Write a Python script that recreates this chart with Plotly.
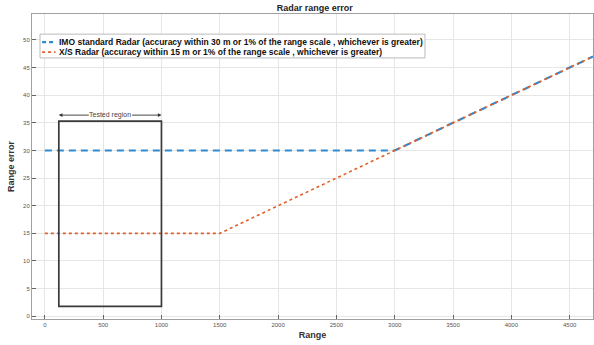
import plotly.graph_objects as go

# Range (m) breakpoints and error curves
range_m = [0, 1500, 3000, 4700]
imo_error = [30, 30, 30, 47]
xs_error = [15, 15, 30, 47]

imo_name = "IMO standard Radar (accuracy within 30 m or 1% of the range scale , whichever is greater)"
xs_name = "X/S Radar (accuracy within 15 m or 1% of the range scale , whichever is greater)"

# Tested region box
tested_x = [120, 1000]
tested_y = [1.8, 35.3]
tested_label = "Tested region"

x_ticks = [0, 500, 1000, 1500, 2000, 2500, 3000, 3500, 4000, 4500]
y_ticks = [0, 5, 10, 15, 20, 25, 30, 35, 40, 45, 50]

FONT = "Liberation Sans, Arial, sans-serif"
IMO_LINE = dict(color="#2f8ad0", width=2.2, dash="7px,5px")
XS_LINE = dict(color="#e0602a", width=1.6, dash="dot")

fig = go.Figure()
fig.add_trace(go.Scatter(x=range_m, y=imo_error, mode="lines", name=imo_name,
                         line=IMO_LINE, showlegend=False))
fig.add_trace(go.Scatter(x=range_m, y=xs_error, mode="lines", name=xs_name,
                         line=XS_LINE, showlegend=False))

# Tested region rectangle
fig.add_shape(type="rect", xref="x", yref="y",
              x0=tested_x[0], x1=tested_x[1], y0=tested_y[0], y1=tested_y[1],
              line=dict(color="#3a3a3a", width=1.7))

arrow_y = 36.4
fig.add_annotation(x=(tested_x[0] + tested_x[1]) / 2, y=arrow_y, text=tested_label,
                   showarrow=False, font=dict(family=FONT, size=7, color="#444444"))
for tip, tail in [(tested_x[0], 390), (tested_x[1], 735)]:
    fig.add_annotation(x=tip, y=arrow_y, ax=tail, ay=arrow_y, axref="x", ayref="y",
                       xref="x", yref="y", text="", showarrow=True,
                       arrowhead=2, arrowsize=0.8, arrowwidth=0.9, arrowcolor="#333333")

# Compact legend box (paper coordinates)
fig.add_shape(type="rect", xref="paper", yref="paper", x0=0.0143, x1=0.7005, y0=0.856, y1=0.934,
              line=dict(color="#bbbbbb", width=1), fillcolor="white", layer="above")
for row_y, style, label in [(0.908, IMO_LINE, imo_name), (0.875, XS_LINE, xs_name)]:
    fig.add_shape(type="line", xref="paper", yref="paper", x0=0.018, x1=0.042, y0=row_y, y1=row_y,
                  line=dict(color=style["color"], width=style["width"],
                            dash="4px,3px" if style["dash"] != "dot" else "dot"),
                  layer="above")
    fig.add_annotation(xref="paper", yref="paper", x=0.0446, y=row_y, xanchor="left", yanchor="middle",
                       text="<b>" + label + "</b>", showarrow=False,
                       font=dict(family=FONT, size=8.5, color="#111111"))

axis_common = dict(
    showgrid=True, gridcolor="#e6e6e6", gridwidth=1,
    ticks="inside", ticklen=4, tickcolor="#666666",
    tickfont=dict(family=FONT, size=6, color="#555555"),
    showline=True, linecolor="#a0a0a0", linewidth=1, mirror=True,
    zeroline=False,
)

fig.update_layout(
    width=594, height=345,
    margin=dict(l=32, r=1, t=14, b=26),
    paper_bgcolor="white", plot_bgcolor="white",
    title=dict(text="<b>Radar range error</b>", x=0.53, xanchor="center", y=0.985, yanchor="top",
               font=dict(family=FONT, size=9, color="#222222")),
    font=dict(family=FONT),
    xaxis=dict(range=[-110, 4700], tickvals=x_ticks,
               title=dict(text="<b>Range</b>", font=dict(family=FONT, size=9, color="#333333"), standoff=4),
               **axis_common),
    yaxis=dict(range=[-0.5, 54.7], tickvals=y_ticks,
               title=dict(text="<b>Range error</b>", font=dict(family=FONT, size=9, color="#333333"), standoff=6),
               **axis_common),
    showlegend=False,
)

fig.write_html("out.html")
